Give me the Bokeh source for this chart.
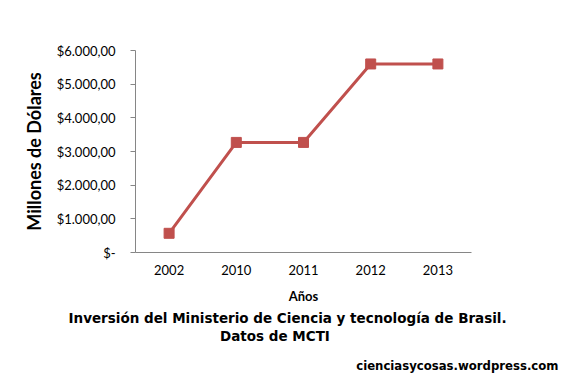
from bokeh.plotting import figure
from bokeh.models import FactorRange, Range1d, FixedTicker, Title, ColumnDataSource
from bokeh.embed import file_html
from bokeh.resources import INLINE

years = ["2002", "2010", "2011", "2012", "2013"]
values = [570, 3270, 3270, 5600, 5600]
y_ticks = [0, 1000, 2000, 3000, 4000, 5000, 6000]
y_tick_labels = ["$-", "$1.000,00", "$2.000,00", "$3.000,00", "$4.000,00", "$5.000,00", "$6.000,00"]
x_title = "Años"
y_title = "Millones de Dólares"
title_lines = ["Inversión del Ministerio de Ciencia y tecnología de Brasil.", "Datos de MCTI"]
watermark = "cienciasycosas.wordpress.com"

W, H = 560, 380
p = figure(width=W, height=H, output_backend="svg", toolbar_location=None,
           x_range=FactorRange(factors=years, range_padding=0),
           y_range=Range1d(0, 6000),
           min_border_left=135, min_border_right=W - 471, min_border_top=50, min_border_bottom=H - 252)
p.outline_line_color = None
p.grid.grid_line_color = None
p.background_fill_color = "white"
p.border_fill_color = "white"

src = ColumnDataSource(dict(x=years, y=values))
p.line("x", "y", source=src, line_color="#C0504D", line_width=3)
p.scatter("x", "y", source=src, marker="square", size=10, fill_color="#C0504D", line_color="#C0504D")

ax = p.yaxis[0]
ax.ticker = FixedTicker(ticks=y_ticks)
ax.major_label_overrides = {t: l for t, l in zip(y_ticks, y_tick_labels)}
ax.axis_line_color = "#868686"
ax.major_tick_line_color = "#868686"
ax.major_tick_out = 5
ax.major_tick_in = 0
ax.minor_tick_line_color = None
ax.major_label_standoff = 15
ax.major_label_text_font = "Lato"
ax.major_label_text_font_size = "13px"
ax.major_label_text_color = "black"
ax.axis_label = y_title
ax.axis_label_text_font = "Lato"
ax.axis_label_text_font_style = "bold"
ax.axis_label_text_font_size = "18px"
ax.axis_label_text_color = "black"
ax.axis_label_standoff = 9

xa = p.xaxis[0]
xa.axis_line_color = "#868686"
xa.major_tick_line_color = None
xa.major_tick_out = 0
xa.major_tick_in = 0
xa.minor_tick_line_color = None
xa.major_label_standoff = 12
xa.major_label_text_font = "Lato"
xa.major_label_text_font_size = "13px"
xa.major_label_text_color = "black"

p.add_layout(Title(text=x_title, align="center", vertical_align="top", standoff=20,
                   text_font="Lato", text_font_style="bold", text_font_size="13px", text_color="black"), "below")
common = dict(text_font="DejaVu Sans", text_font_style="bold", text_color="black")
p.add_layout(Title(text=title_lines[0], align="left", offset=-67, vertical_align="bottom", standoff=-13.7,
                   text_font_size="13.5px", **common), "below")
p.add_layout(Title(text=title_lines[1], align="left", offset=84.5, vertical_align="top", standoff=16.3,
                   text_font_size="13.5px", **common), "below")
p.add_layout(Title(text=watermark, align="right", offset=-87, vertical_align="bottom", standoff=6,
                   text_font_size="11.7px", **common), "below")

open("out.html", "w").write(file_html(p, INLINE))
